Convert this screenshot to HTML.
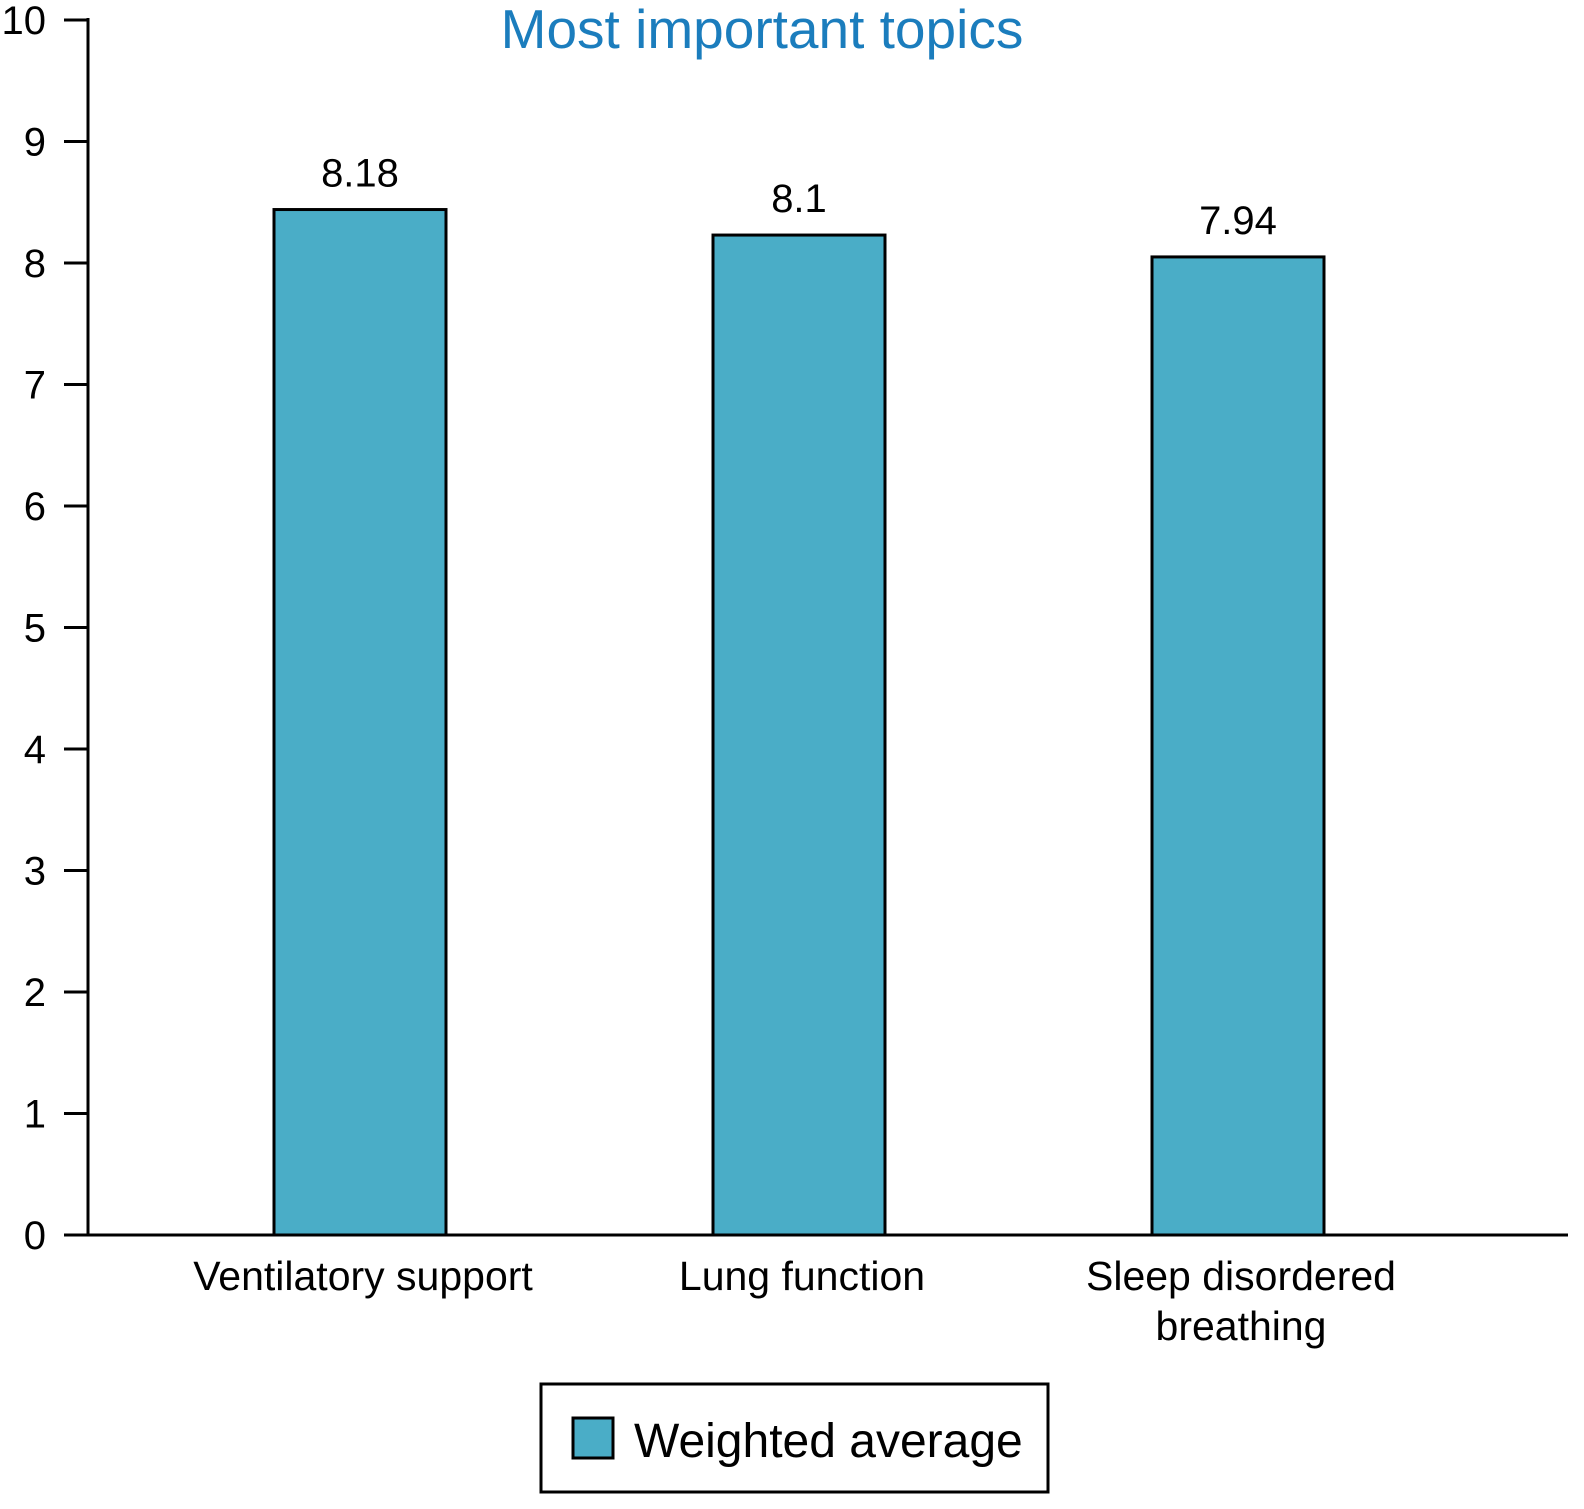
<!DOCTYPE html>
<html><head><meta charset="utf-8"><style>
html,body{margin:0;padding:0;background:#fff;overflow:hidden;width:1584px;height:1509px;}
svg{display:block;}
svg text{font-family:"Liberation Sans",Arial,sans-serif;}
</style></head><body>
<svg id="chart" width="1584" height="1509" viewBox="0 0 1584 1509" xmlns="http://www.w3.org/2000/svg">
<text x="762" y="48" font-size="55" fill="#1b7dbd" text-anchor="middle">Most important topics</text>
<g id="axes"></g>
<g id="bars"></g>
<g>
<rect x="541" y="1384" width="507" height="108" fill="#fff" stroke="#000" stroke-width="3"/>
<rect x="573" y="1418" width="40" height="40" fill="#4aadc7" stroke="#000" stroke-width="3"/>
<text x="634" y="1457" font-size="48" fill="#000">Weighted average</text>
</g>
</svg>
<script>
const categories = [["Ventilatory support"], ["Lung function"], ["Sleep disordered", "breathing"]];
const values = [8.44, 8.23, 8.05];
const valueLabels = ["8.18", "8.1", "7.94"];
const yTicks = [0,1,2,3,4,5,6,7,8,9,10];

const NS = "http://www.w3.org/2000/svg";
const y0 = 1235, pxPerUnit = 121.5;
const yScale = v => y0 - v * pxPerUnit;
const xCenters0 = 360, xStep = 439;
const xScale = i => xCenters0 + i * xStep;
const barW = 172;
function mk(tag, attrs, parent){ const e = document.createElementNS(NS, tag); for (const k in attrs) e.setAttribute(k, attrs[k]); parent.appendChild(e); return e; }
const axes = document.getElementById("axes");
const bars = document.getElementById("bars");
let el = mk("line", {x1:88, y1:yScale(10)-2, x2:88, y2:y0, stroke:"#000", "stroke-width":3}, axes);


el = mk("line", {x1:64, y1:y0, x2:1568, y2:y0, stroke:"#000", "stroke-width":3}, axes);


yTicks.forEach(t => {
  const y = yScale(t);
  const tk = mk("line", {x1:64, y1:y, x2:88, y2:y, stroke:"#000", "stroke-width":3}, axes);
  
  
  const tl = mk("text", {x:46, y:y+14, "font-size":40, "text-anchor":"end", fill:"#000"}, axes);
  tl.textContent = t;
  
  
});
values.forEach((v, i) => {
  const cx = xScale(i), top = yScale(v);
  const r = mk("rect", {x:cx-barW/2, y:top, width:barW, height:y0-top, fill:"#4aadc7", stroke:"#000", "stroke-width":3}, bars);
  
  
  const vl = mk("text", {x:cx, y:top-23, "font-size":40, "text-anchor":"middle", fill:"#000"}, bars);
  vl.textContent = valueLabels[i];
  
  
  categories[i].forEach((line, j) => {
    const cl = mk("text", {x:cx+3, y:1290 + j*50, "font-size":41, "text-anchor":"middle", fill:"#000"}, bars);
    cl.textContent = line;
    
    
  });
});
</script>
</body></html>
